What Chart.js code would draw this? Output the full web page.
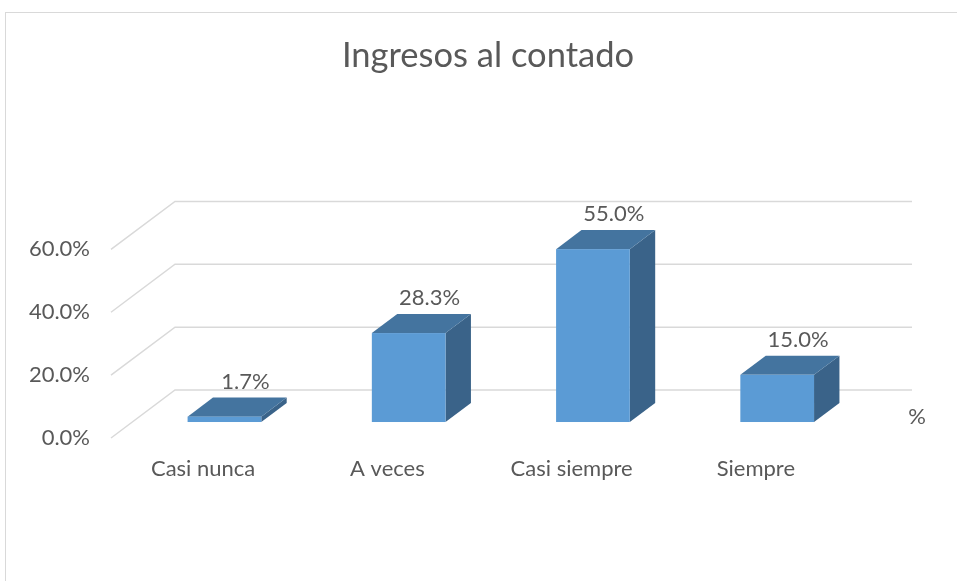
<!DOCTYPE html>
<html>
<head>
<meta charset="utf-8">
<script src="https://cdn.jsdelivr.net/npm/chart.js@4.4.0/dist/chart.umd.min.js"></script>
<style>
html, body { margin: 0; padding: 0; background: #fff; overflow: hidden; }
#frame { position: absolute; left: 5px; top: 12px; width: 1000px; height: 700px; border: 1px solid #d9d9d9; box-sizing: border-box; }
#wrap { position: absolute; left: 0; top: 0; width: 957px; height: 581px; }
</style>
</head>
<body>
<div id="frame"></div>
<div id="wrap"><canvas id="chart_canvas" width="957" height="581"></canvas></div>
<script>
// data
const chart_title = 'Ingresos al contado';
const series_name = '%';
const categories = ['Casi nunca', 'A veces', 'Casi siempre', 'Siempre'];
const values = [1.7, 28.3, 55.0, 15.0];
const y_ticks = [0, 20, 40, 60];

// look
const text_color = '#595959';
const grid_color = '#d9d9d9';
const font_name = 'Lato, "Open Sans", sans-serif';
const label_size = 22;
const face_front = '#5b9bd5';
const face_top = '#44749f';
const face_side = '#3a6389';

// depth of the fake 3d box (back wall offset) and where the bars sit in it
const depth = { dx: 64, dy: 48, front: 0.333, back: 0.73 };

function pct(v){
    return v.toFixed(1) + '%';
}

const bar3d = {
    id: 'bar3d',
    beforeDatasetsDraw(chart){
        const {ctx, chartArea, scales: {y}} = chart;
        ctx.save();
        ctx.strokeStyle = grid_color;
        ctx.lineWidth = 1.5;
        y_ticks.forEach(v => {
            const fy = y.getPixelForValue(v);
            ctx.beginPath();
            ctx.moveTo(chartArea.left, fy);
            ctx.lineTo(chartArea.left + depth.dx, fy - depth.dy);
            ctx.lineTo(chartArea.right + depth.dx, fy - depth.dy);
            ctx.stroke();
        });
        ctx.restore();
    },
    afterDatasetsDraw(chart){
        const {ctx, chartArea, scales: {y}} = chart;
        const meta = chart.getDatasetMeta(0);
        const ax = depth.front * depth.dx, ay = -depth.front * depth.dy;
        const bx = depth.back * depth.dx, by = -depth.back * depth.dy;
        ctx.save();
        meta.data.forEach((bar, i) => {
            const p = bar.getProps(['x', 'y', 'base', 'width'], true);
            const l = p.x - p.width / 2, r = p.x + p.width / 2;
            // side
            ctx.fillStyle = face_side;
            ctx.beginPath();
            ctx.moveTo(r + ax, p.y + ay);
            ctx.lineTo(r + bx, p.y + by);
            ctx.lineTo(r + bx, p.base + by);
            ctx.lineTo(r + ax, p.base + ay);
            ctx.closePath();
            ctx.fill();
            // top
            ctx.fillStyle = face_top;
            ctx.beginPath();
            ctx.moveTo(l + ax, p.y + ay);
            ctx.lineTo(r + ax, p.y + ay);
            ctx.lineTo(r + bx, p.y + by);
            ctx.lineTo(l + bx, p.y + by);
            ctx.closePath();
            ctx.fill();
            // front
            ctx.fillStyle = face_front;
            ctx.fillRect(l + ax, p.y + ay, p.width, p.base - p.y);
            // value label
            ctx.fillStyle = text_color;
            ctx.font = label_size + 'px ' + font_name;
            ctx.textAlign = 'center';
            ctx.textBaseline = 'middle';
            ctx.fillText(pct(values[i]), p.x + 0.66 * depth.dx, p.y + by - 16);
        });
        // series name, where excel puts the legend
        ctx.textAlign = 'center';
        ctx.textBaseline = 'middle';
        ctx.fillText(chart.data.datasets[0].label, chartArea.right + 69, y.getPixelForValue(0) - 21);
        ctx.restore();
    }
};

const data = {
    labels: categories,
    datasets: [{
        label: series_name,
        data: values,
        backgroundColor: 'rgba(0,0,0,0)',
        borderWidth: 0,
        categoryPercentage: 1.0,
        barPercentage: 0.4
    }]
};

const config = {
    type: 'bar',
    data: data,
    plugins: [bar3d],
    options: {
        responsive: false,
        animation: false,
        devicePixelRatio: 1,
        layout: { padding: { left: 19, right: 0, top: 0, bottom: 0 } },
        plugins: {
            legend: { display: false },
            tooltip: { enabled: false },
            title: {
                display: true,
                text: chart_title,
                color: text_color,
                font: { family: font_name, size: 34.5, weight: 'normal' },
                padding: { top: 35, bottom: 173 }
            }
        },
        scales: {
            x: {
                grid: { display: false, drawTicks: false },
                border: { display: false },
                ticks: { color: text_color, font: { family: font_name, size: label_size }, padding: 18, maxRotation: 0 },
                afterFit: s => { s.height = 143; }
            },
            y: {
                min: 0,
                max: 60,
                grid: { display: false, drawTicks: false },
                border: { display: false },
                ticks: {
                    stepSize: 20,
                    color: text_color,
                    font: { family: font_name, size: label_size },
                    padding: 21,
                    callback: v => pct(v)
                },
                afterFit: s => { s.width = 92; }
            },
            // empty right axis, only keeps room for the back wall and the series name
            y_room: {
                position: 'right',
                grid: { display: false, drawTicks: false },
                border: { display: false },
                ticks: { display: false },
                afterFit: s => { s.width = 109; }
            }
        }
    }
};

window.onload = function(){
    new Chart(document.getElementById('chart_canvas'), config);
};
</script>
</body>
</html>
